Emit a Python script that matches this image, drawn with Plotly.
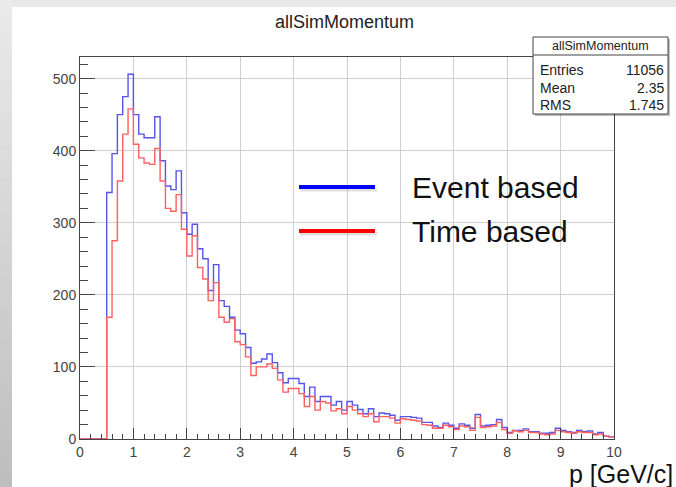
import plotly.graph_objects as go

# ---------------- data ----------------
bin_width = 0.1
n_bins = 100
event_based = [
    0, 0, 0, 0, 0, 342, 396, 450, 475, 506,
    450, 423, 418, 418, 447, 386, 351, 346, 372, 314,
    284, 298, 264, 250, 206, 242, 192, 184, 169, 151,
    146, 127, 105, 107, 111, 118, 106, 92, 78, 84,
    84, 77, 59, 72, 52, 59, 59, 47, 52, 40,
    52, 47, 41, 35, 42, 31, 36, 35, 33, 26,
    31, 31, 30, 29, 23, 23, 18, 16, 22, 19,
    15, 21, 19, 15, 34, 18, 19, 20, 27, 16,
    9, 12, 12, 14, 10, 10, 8, 8, 9, 15,
    12, 10, 9, 12, 10, 11, 7, 9, 4, 3,
]
time_based = [
    0, 0, 0, 0, 0, 169, 275, 358, 423, 458,
    409, 390, 383, 381, 403, 358, 320, 316, 339, 291,
    254, 282, 238, 222, 192, 217, 169, 162, 167, 135,
    131, 114, 88, 100, 100, 104, 98, 82, 65, 70,
    70, 63, 45, 59, 40, 52, 50, 39, 42, 35,
    45, 40, 35, 31, 35, 24, 31, 31, 29, 22,
    28, 27, 26, 25, 20, 19, 15, 15, 19, 17,
    13, 18, 17, 12, 30, 16, 17, 18, 23, 13,
    8, 11, 10, 12, 9, 9, 7, 6, 7, 12,
    10, 9, 8, 10, 9, 9, 6, 7, 4, 3,
]
x_ticks = list(range(0, 11))
y_ticks = [0, 100, 200, 300, 400, 500]
title_text = "allSimMomentum"
stats_labels = ["Entries", "Mean", "RMS"]
stats_values = ["11056", "2.35", "1.745"]
legend_names = ["Event based", "Time based"]
legend_colors = ["#0000ff", "#ff0000"]
x_title = "p [GeV/c]"

# ---------------- geometry ----------------
W, H = 676, 487
ML, MR, MT, MB = 80, 62, 57, 48
PW, PH = W - ML - MR, H - MT - MB
FONT = "Liberation Sans, Arial, Helvetica, sans-serif"


def px(x):
    return (x - ML) / PW


def py(y):
    return (H - MB - y) / PH


edges = [round(i * bin_width, 4) for i in range(n_bins + 1)]


def steps(vals):
    return edges, list(vals) + [vals[-1]]


fig = go.Figure()
bx, by = steps(event_based)
fig.add_trace(go.Scatter(x=bx, y=by, mode="lines", line_shape="hv",
                         line=dict(color="#5555ea", width=1.4),
                         hoverinfo="skip", showlegend=False))
rx, ry = steps(time_based)
fig.add_trace(go.Scatter(x=rx, y=ry, mode="lines", line_shape="hv",
                         line=dict(color="#ff6060", width=1.4),
                         hoverinfo="skip", showlegend=False))

shapes = []
# top grey band
shapes.append(dict(type="rect", xref="paper", yref="paper",
                   x0=px(0), x1=px(W), y0=py(7), y1=py(0),
                   fillcolor="#e8e8e8", line=dict(width=0), layer="above"))
# left gradient band
nb = 30
for i in range(nb):
    t = i / (nb - 1)
    g = int(round(0xea - t * (0xea - 0xbe)))
    col = f"rgb({g},{g},{g})"
    y0 = i * H / nb
    y1 = (i + 1) * H / nb
    shapes.append(dict(type="rect", xref="paper", yref="paper",
                       x0=px(0), x1=px(12), y0=py(y1 + 0.5), y1=py(y0),
                       fillcolor=col, line=dict(width=0), layer="above"))

# stats box
sx0, sx1, sy0, sy1 = 533, 668, 37, 114
shapes.append(dict(type="rect", xref="paper", yref="paper",
                   x0=px(sx0 + 2), x1=px(sx1 + 2), y0=py(sy1 + 2), y1=py(sy0 + 2),
                   fillcolor="rgba(0,0,0,0.25)", line=dict(width=0), layer="above"))
shapes.append(dict(type="rect", xref="paper", yref="paper",
                   x0=px(sx0), x1=px(sx1), y0=py(sy1), y1=py(sy0),
                   fillcolor="white", line=dict(color="#444", width=1), layer="above"))
shapes.append(dict(type="line", xref="paper", yref="paper",
                   x0=px(sx0), x1=px(sx1), y0=py(55), y1=py(55),
                   line=dict(color="#444", width=1), layer="above"))

# legend lines (with a soft shadow)
leg_y = [187, 231]
for yy, col in zip(leg_y, legend_colors):
    shapes.append(dict(type="line", xref="paper", yref="paper",
                       x0=px(300), x1=px(377), y0=py(yy + 3), y1=py(yy + 3),
                       line=dict(color="rgba(0,0,0,0.12)", width=3), layer="above"))
    shapes.append(dict(type="line", xref="paper", yref="paper",
                       x0=px(299), x1=px(375), y0=py(yy), y1=py(yy),
                       line=dict(color=col, width=4), layer="above"))

annotations = []
annotations.append(dict(text=title_text, xref="paper", yref="paper",
                        x=px(344), y=py(22), xanchor="center", yanchor="middle",
                        showarrow=False, font=dict(family=FONT, size=18, color="#222")))
annotations.append(dict(text=title_text, xref="paper", yref="paper",
                        x=px((sx0 + sx1) / 2), y=py(46), xanchor="center", yanchor="middle",
                        showarrow=False, font=dict(family=FONT, size=12.5, color="#222")))
row_y = [70, 88, 105]
for lab, val, yy in zip(stats_labels, stats_values, row_y):
    annotations.append(dict(text=lab, xref="paper", yref="paper",
                            x=px(538), y=py(yy), xanchor="left", yanchor="middle",
                            showarrow=False, font=dict(family=FONT, size=14, color="#222")))
    annotations.append(dict(text=val, xref="paper", yref="paper",
                            x=px(666), y=py(yy), xanchor="right", yanchor="middle",
                            showarrow=False, font=dict(family=FONT, size=14, color="#222")))
for name, yy in zip(legend_names, leg_y):
    annotations.append(dict(text=name, xref="paper", yref="paper",
                            x=px(410), y=py(yy + 1), xanchor="left", yanchor="middle",
                            showarrow=False, font=dict(family=FONT, size=30, color="#111")))
annotations.append(dict(text=x_title, xref="paper", yref="paper",
                        x=px(675), y=py(473.5), xanchor="right", yanchor="middle",
                        showarrow=False, font=dict(family=FONT, size=25, color="#111")))

fig.update_layout(
    width=W, height=H, autosize=False,
    margin=dict(l=ML, r=MR, t=MT, b=MB, pad=0),
    paper_bgcolor="white", plot_bgcolor="white",
    shapes=shapes, annotations=annotations,
    showlegend=False,
    font=dict(family=FONT),
)
fig.update_xaxes(
    range=[0, 10], tickvals=x_ticks, ticktext=[str(v) for v in x_ticks],
    showline=True, linecolor="#444", linewidth=1, mirror=True,
    ticks="inside", ticklen=11, tickcolor="#444", tickwidth=1,
    showgrid=True, gridcolor="#cfcfcf", gridwidth=1, zeroline=False,
    tickfont=dict(family=FONT, size=14, color="#444"),
    minor=dict(ticks="inside", dtick=0.2, tick0=0, ticklen=5, tickcolor="#444", showgrid=False),
)
fig.update_yaxes(
    range=[0, 530], tickvals=y_ticks, ticktext=[str(v) for v in y_ticks],
    showline=True, linecolor="#444", linewidth=1, mirror=True,
    ticks="inside", ticklen=15, tickcolor="#444", tickwidth=1,
    showgrid=True, gridcolor="#cfcfcf", gridwidth=1, zeroline=False,
    tickfont=dict(family=FONT, size=14, color="#444"),
    minor=dict(ticks="inside", dtick=20, tick0=0, ticklen=8, tickcolor="#444", showgrid=False),
)

fig.write_html("out.html", config={"displayModeBar": False})
